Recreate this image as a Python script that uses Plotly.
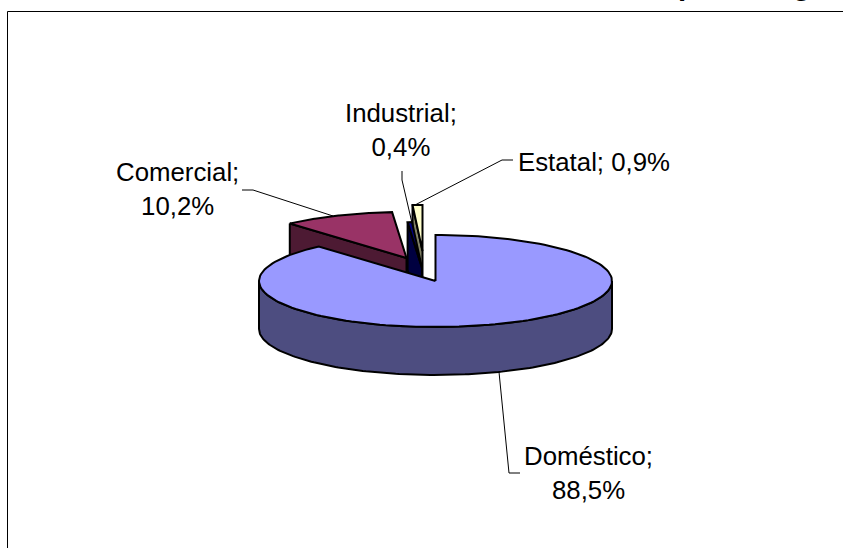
import numpy as np
import plotly.graph_objects as go

# Data
categories = ["Doméstico", "Comercial", "Industrial", "Estatal"]
values = [88.5, 10.2, 0.4, 0.9]

# Styles
top_colors = ["#9999FF", "#993366", "#000080", "#FFFFCC"]
wall_colors = ["#4D4D80", "#4D1A33", "#000040", "#808066"]
offset_x = [0, -29, -13.5, -13]
offset_y = [0, -23, -13, -30]
label_pos = [(588, 472.5), (177.5, 188.5), (401, 129.5), (594, 162)]
label_breaks = [True, True, True, False]

CX, CY, RX, RY, DEPTH = 435.5, 281, 176.5, 46, 48
FONT = "Liberation Sans"

shares = np.array(values) / sum(values) * 360
ends = np.cumsum(shares)
starts = ends - shares


def rim(a, b, dx=0, dy=0, n=160):
    t = np.radians(np.linspace(a, b, n))
    return CX + dx + RX * np.sin(t), CY + dy - RY * np.cos(t)


fig = go.Figure()


def poly(x, y, color, width=2):
    fig.add_trace(go.Scatter(x=x, y=y, mode="lines", fill="toself", fillcolor=color,
                             line=dict(color="black", width=width, shape="linear"),
                             hoverinfo="skip", showlegend=False))


# Paint back slices first, the big front slice last
for i in [3, 2, 1, 0]:
    dx, dy = offset_x[i], offset_y[i]
    x, y = rim(starts[i], ends[i], dx, dy)
    ax, ay = CX + dx, CY + dy
    if i == 0:
        wx, wy = rim(90, 270)
        poly(np.r_[wx, wx[::-1], wx[0]], np.r_[wy, wy[::-1] + DEPTH, wy[0]], wall_colors[i])
    else:
        # visible cut face under the slice's leading edge
        poly([x[0], ax, ax, x[0], x[0]],
             [y[0], ay, ay + DEPTH, y[0] + DEPTH, y[0]], wall_colors[i])
    poly(np.r_[ax, x, ax], np.r_[ay, y, ay], top_colors[i], 2)

# Leader lines
leaders = [
    ([499, 509, 520], [372, 473, 473]),
    ([242, 253, 333], [190, 190, 216]),
    ([402, 402, 412], [171, 180, 223]),
    ([513, 502, 415], [160, 160, 205]),
]
shapes = []
for lx, ly in leaders:
    path = "M" + " L".join(f"{a},{b}" for a, b in zip(lx, ly))
    shapes.append(dict(type="path", path=path, xref="x", yref="y",
                       line=dict(color="black", width=1)))
# Chart-area frame (runs off the window at right and bottom)
shapes.append(dict(type="line", xref="x", yref="y", x0=7.5, x1=843, y0=11.5, y1=11.5,
                   line=dict(color="black", width=1)))
shapes.append(dict(type="line", xref="x", yref="y", x0=7.5, x1=7.5, y0=11.5, y1=548,
                   line=dict(color="black", width=1)))

annotations = []
for cat, val, (lx, ly), brk in zip(categories, values, label_pos, label_breaks):
    sep = ";<br>" if brk else "; "
    annotations.append(dict(x=lx, y=ly, xref="x", yref="y", showarrow=False,
                            text=f"{cat}{sep}{val:.1f}%".replace(".", ","),
                            font=dict(family=FONT, size=25.8, color="black"),
                            xanchor="center", yanchor="middle", align="center"))
# Title, almost fully cropped by the top of the window
annotations.append(dict(x=676, y=1, xref="x", yref="paper", showarrow=False,
                        text="<b>por categoría</b>", yshift=-3,
                        font=dict(family=FONT, size=29.5, color="black"),
                        xanchor="left", yanchor="bottom"))

fig.update_layout(
    width=843, height=548, margin=dict(l=0, r=0, t=0, b=0),
    paper_bgcolor="white", plot_bgcolor="white", showlegend=False,
    xaxis=dict(range=[0, 843], visible=False, fixedrange=True),
    yaxis=dict(range=[548, 0], visible=False, fixedrange=True),
    shapes=shapes, annotations=annotations,
)
fig.write_html("out.html", config=dict(displayModeBar=False),
               post_script="document.body.style.margin='0';document.body.style.overflow='hidden';")
